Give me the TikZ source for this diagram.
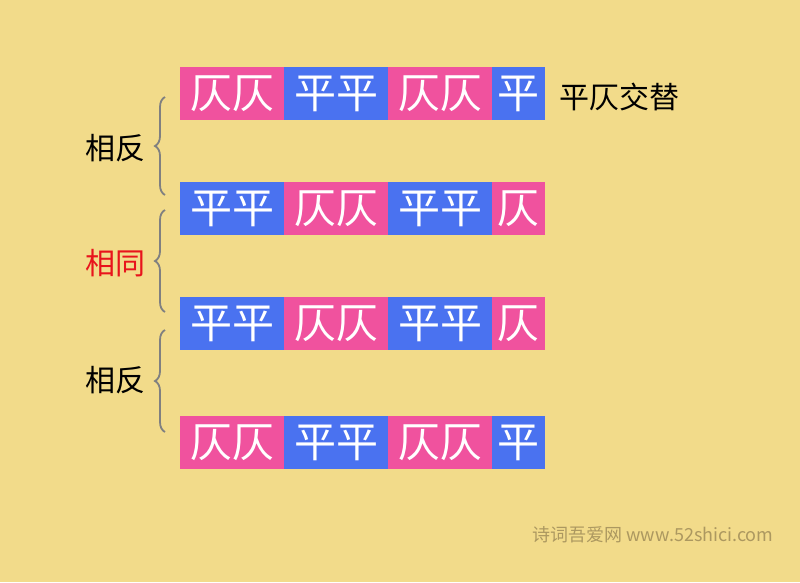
\documentclass[tikz,border=0pt]{standalone}
\usepackage{fontspec}
\setmainfont{Noto Sans CJK SC}
\usetikzlibrary{decorations.pathreplacing,positioning,calc}
\definecolor{bgyellow}{RGB}{242,219,138}
\definecolor{zepink}{RGB}{240,82,158}
\definecolor{pingblue}{RGB}{74,114,240}
\definecolor{markgray}{RGB}{172,152,96}
\definecolor{samered}{RGB}{232,20,28}

\begin{document}
\begin{tikzpicture}[x=1pt,y=-1pt]
% boxes of one line, placed left to right
\tikzset{tone/.style={minimum height=53pt, minimum width=104pt, inner sep=0pt, outer sep=0pt, text=white, font=\fontsize{42}{42}\selectfont}}
\tikzset{ze/.style={tone, fill=zepink}, ping/.style={tone, fill=pingblue}, half/.style={minimum width=53pt}}
\tikzset{label/.style={font=\fontsize{30}{30}\selectfont}}
\tikzset{gbrace/.style={draw=gray, line width=1.8pt, decorate, decoration={brace, amplitude=10pt}}}

\useasboundingbox (0,0) rectangle (800,582);
\fill[bgyellow] (0,0) rectangle (800,582);

% line 1
\node[ze, anchor=north west] at (180,67) (R11) {仄仄};
\node[ping, right=0pt of R11] (R12) {平平};
\node[ze, right=0pt of R12] (R13) {仄仄};
\node[ping, half, right=0pt of R13] (R14) {平};
\node[label, anchor=west] at ($(R14.east)+(11,3)$) (note) {平仄交替};

% line 2
\node[ping, anchor=north west] at (180,182) (R21) {平平};
\node[ze, right=0pt of R21] (R22) {仄仄};
\node[ping, right=0pt of R22] (R23) {平平};
\node[ze, half, right=0pt of R23] (R24) {仄};

% line 3
\node[ping, anchor=north west] at (180,297) (R31) {平平};
\node[ze, right=0pt of R31] (R32) {仄仄};
\node[ping, right=0pt of R32] (R33) {平平};
\node[ze, half, right=0pt of R33] (R34) {仄};

% line 4
\node[ze, anchor=north west] at (180,416) (R41) {仄仄};
\node[ping, right=0pt of R41] (R42) {平平};
\node[ze, right=0pt of R42] (R43) {仄仄};
\node[ping, half, right=0pt of R43] (R44) {平};

% braces between the lines
\coordinate (b1n) at (165,97);
\coordinate (b1s) at (165,195);
\coordinate (b2n) at (165,210);
\coordinate (b2s) at (165,312);
\coordinate (b3n) at (165,330);
\coordinate (b3s) at (165,432);
\draw[gbrace] (b1s) -- (b1n);
\draw[gbrace] (b2s) -- (b2n);
\draw[gbrace] (b3s) -- (b3n);

\node[label] at (115,148) (rel1) {相反};
\node[label, text=samered] at (115,263) (rel2) {相同};
\node[label] at (115,380) (rel3) {相反};

% watermark
\node[text=markgray, font=\fontsize{18}{18}\selectfont] at (653,535) (mark) {诗词吾爱网 www.52shici.com};
\end{tikzpicture}
\end{document}
